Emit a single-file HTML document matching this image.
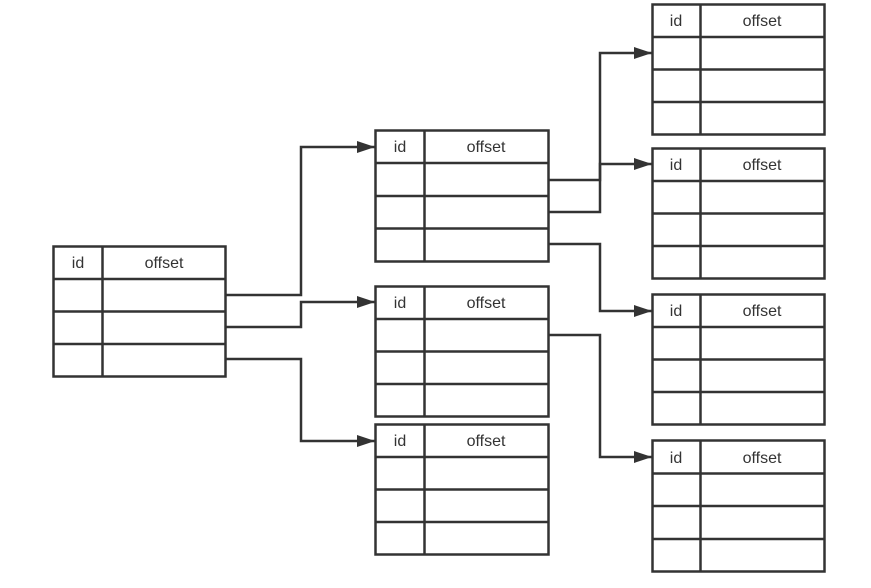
<!DOCTYPE html>
<html><head><meta charset="utf-8"><style>html,body{margin:0;padding:0;background:#fff;}svg{display:block}</style></head>
<body>
<svg width="871" height="588" viewBox="0 0 871 588" xmlns="http://www.w3.org/2000/svg">
<defs>
<marker id="a" markerWidth="18" markerHeight="12" refX="18" refY="6" orient="auto" markerUnits="userSpaceOnUse">
<path d="M0,0 L18,6 L0,12 Z" fill="#333"/>
</marker>
</defs>
<g fill="none" stroke="#333" stroke-width="2.5">
<!-- left table -->
<rect x="53.5" y="246.5" width="172" height="130"/>
<path d="M102.5 246.5V376.5M53.5 279H225.5M53.5 311.5H225.5M53.5 344H225.5"/>
<!-- mid A -->
<rect x="375.5" y="130.5" width="173" height="131"/>
<path d="M424.5 130.5V261.5M375.5 163H548.5M375.5 196H548.5M375.5 228.5H548.5"/>
<!-- mid B -->
<rect x="375.5" y="286.5" width="173" height="130"/>
<path d="M424.5 286.5V416.5M375.5 319H548.5M375.5 351.5H548.5M375.5 384H548.5"/>
<!-- mid C -->
<rect x="375.5" y="424.5" width="173" height="130"/>
<path d="M424.5 424.5V554.5M375.5 457H548.5M375.5 489.5H548.5M375.5 522H548.5"/>
<!-- right 1 -->
<rect x="652.5" y="4.5" width="172" height="130"/>
<path d="M700.5 4.5V134.5M652.5 37H824.5M652.5 69.5H824.5M652.5 102H824.5"/>
<!-- right 2 -->
<rect x="652.5" y="148.5" width="172" height="130"/>
<path d="M700.5 148.5V278.5M652.5 181H824.5M652.5 213.5H824.5M652.5 246H824.5"/>
<!-- right 3 -->
<rect x="652.5" y="294.5" width="172" height="130"/>
<path d="M700.5 294.5V424.5M652.5 327H824.5M652.5 359.5H824.5M652.5 392H824.5"/>
<!-- right 4 -->
<rect x="652.5" y="440.5" width="172" height="131"/>
<path d="M700.5 440.5V571.5M652.5 473.5H824.5M652.5 506H824.5M652.5 539H824.5"/>
<!-- connectors -->
<path d="M226 295H301V147H375" marker-end="url(#a)"/>
<path d="M226 327H301V302H375" marker-end="url(#a)"/>
<path d="M226 359H301V441H375" marker-end="url(#a)"/>
<path d="M549 180H600V53H652" marker-end="url(#a)"/>
<path d="M549 212H600V164H652" marker-end="url(#a)"/>
<path d="M549 244H600V311H652" marker-end="url(#a)"/>
<path d="M549 335H600V457H652" marker-end="url(#a)"/>
</g>
<g font-family="Liberation Sans, sans-serif" font-size="16" fill="#333" text-anchor="middle">
<text x="78" y="268">id</text><text x="164" y="268">offset</text>
<text x="400" y="152">id</text><text x="486" y="152">offset</text>
<text x="400" y="308">id</text><text x="486" y="308">offset</text>
<text x="400" y="446">id</text><text x="486" y="446">offset</text>
<text x="676" y="26">id</text><text x="762" y="26">offset</text>
<text x="676" y="170">id</text><text x="762" y="170">offset</text>
<text x="676" y="316">id</text><text x="762" y="316">offset</text>
<text x="676" y="463">id</text><text x="762" y="463">offset</text>
</g>
</svg>
</body></html>
